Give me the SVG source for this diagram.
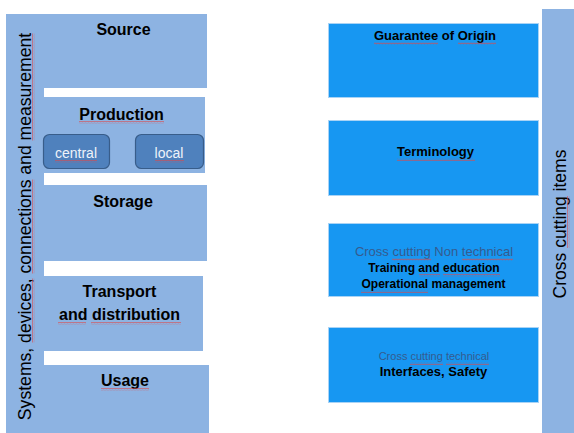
<svg xmlns="http://www.w3.org/2000/svg" width="574" height="433" viewBox="0 0 574 433">
  <style>
    .lb { fill: #8db3e2; }
    .bb { fill: #1797f2; stroke: #a9d3f5; stroke-width: 1; }
    .btn { fill: #4f81bd; stroke: #385d8a; stroke-width: 1.2; }
    text { font-family: "Liberation Sans", Arial, sans-serif; }
    .h { font-size: 16px; font-weight: bold; fill: #000; text-anchor: middle; }
    .v { font-size: 17.6px; fill: #000; text-anchor: middle; }
    .bt { font-size: 14px; fill: #eef3fa; text-anchor: middle; }
    .r13 { font-size: 13px; font-weight: bold; fill: #000; text-anchor: middle; }
    .r12 { font-size: 12px; font-weight: bold; fill: #000; text-anchor: middle; }
    .g { fill: #355b8f; text-anchor: middle; }
  </style>
  <defs>
    <pattern id="sq" width="3" height="3" patternUnits="userSpaceOnUse">
      <path d="M0,2.2 L0.75,0.8 L1.5,2.2 L2.25,0.8 L3,2.2" fill="none" stroke="#e04848" stroke-width="0.55"/>
    </pattern>
  </defs>

  <rect width="574" height="433" fill="#ffffff"/>

  <g id="systems-bar">
    <rect class="lb" x="6" y="14" width="38" height="419"/>
    <g transform="translate(31,226.5) rotate(-90)">
      <text class="v" x="0" y="0">Systems, devices, connections and measurement</text>
      <rect x="-116" y="1" width="64" height="3" fill="url(#sq)"/>
      <rect x="-47" y="1" width="94" height="3" fill="url(#sq)"/>
      <rect x="86" y="1" width="107" height="3" fill="url(#sq)"/>
    </g>
  </g>

  <g id="source">
    <rect class="lb" x="43" y="14" width="164" height="74"/>
    <text class="h" x="123.5" y="35">Source</text>
  </g>

  <g id="production">
    <rect class="lb" x="43" y="97" width="162" height="76"/>
    <text class="h" x="121.5" y="119.5">Production</text>
    <rect x="79" y="121" width="85" height="3" fill="url(#sq)"/>
  </g>

  <g id="central">
    <rect class="btn" x="43.5" y="134.5" width="66" height="34" rx="6"/>
    <text class="bt" x="76" y="158">central</text>
    <rect x="55" y="160" width="42" height="3" fill="url(#sq)"/>
  </g>

  <g id="local">
    <rect class="btn" x="135.5" y="134.5" width="68" height="34" rx="6"/>
    <text class="bt" x="169" y="158">local</text>
    <rect x="155" y="160" width="29" height="3" fill="url(#sq)"/>
  </g>

  <g id="storage">
    <rect class="lb" x="43" y="185" width="164" height="76"/>
    <text class="h" x="123" y="207">Storage</text>
  </g>

  <g id="transport">
    <rect class="lb" x="43" y="276" width="160" height="75"/>
    <text class="h" x="119.5" y="297">Transport</text>
    <text class="h" x="119.5" y="320">and distribution</text>
    <rect x="58" y="322" width="28" height="3" fill="url(#sq)"/>
    <rect x="91" y="322" width="90" height="3" fill="url(#sq)"/>
  </g>

  <g id="usage">
    <rect class="lb" x="43" y="365" width="166" height="68"/>
    <text class="h" x="125" y="386">Usage</text>
    <rect x="101" y="388" width="48" height="3" fill="url(#sq)"/>
  </g>

  <g id="guarantee">
    <rect class="bb" x="328.5" y="23.5" width="210" height="74"/>
    <text class="r13" x="435" y="40">Guarantee of Origin</text>
    <rect x="374" y="42" width="64" height="3" fill="url(#sq)"/>
    <rect x="458" y="42" width="38" height="3" fill="url(#sq)"/>
  </g>

  <g id="terminology">
    <rect class="bb" x="328.5" y="120.5" width="210" height="75"/>
    <text class="r13" x="435.5" y="156">Terminology</text>
    <rect x="397" y="158" width="78" height="3" fill="url(#sq)"/>
  </g>

  <g id="non-technical">
    <rect class="bb" x="328.5" y="223.5" width="210" height="73"/>
    <text class="g" x="434" y="256" font-size="13">Cross cutting Non technical</text>
    <rect x="392" y="258" width="39" height="3" fill="url(#sq)"/>
    <rect x="462" y="258" width="51" height="3" fill="url(#sq)"/>
    <text class="r12" x="434" y="272">Training and education</text>
    <rect x="419" y="274" width="21" height="3" fill="url(#sq)"/>
    <rect x="443" y="274" width="57" height="3" fill="url(#sq)"/>
    <text class="r12" x="433.5" y="288">Operational management</text>
    <rect x="361" y="290" width="67" height="3" fill="url(#sq)"/>
  </g>

  <g id="technical">
    <rect class="bb" x="328.5" y="327.5" width="210" height="75"/>
    <text class="g" x="434" y="360" font-size="11">Cross cutting technical</text>
    <rect x="410" y="362" width="33" height="3" fill="url(#sq)"/>
    <rect x="446" y="362" width="43" height="3" fill="url(#sq)"/>
    <text class="r13" x="433.5" y="376">Interfaces, Safety</text>
  </g>

  <g id="cross-cutting-bar">
    <rect class="lb" x="542" y="9" width="32" height="424"/>
    <g transform="translate(566,224) rotate(-90)">
      <text class="v" x="0" y="0" style="font-size:17.5px">Cross cutting items</text>
      <rect x="-24" y="1" width="52" height="3" fill="url(#sq)"/>
    </g>
  </g>
</svg>
